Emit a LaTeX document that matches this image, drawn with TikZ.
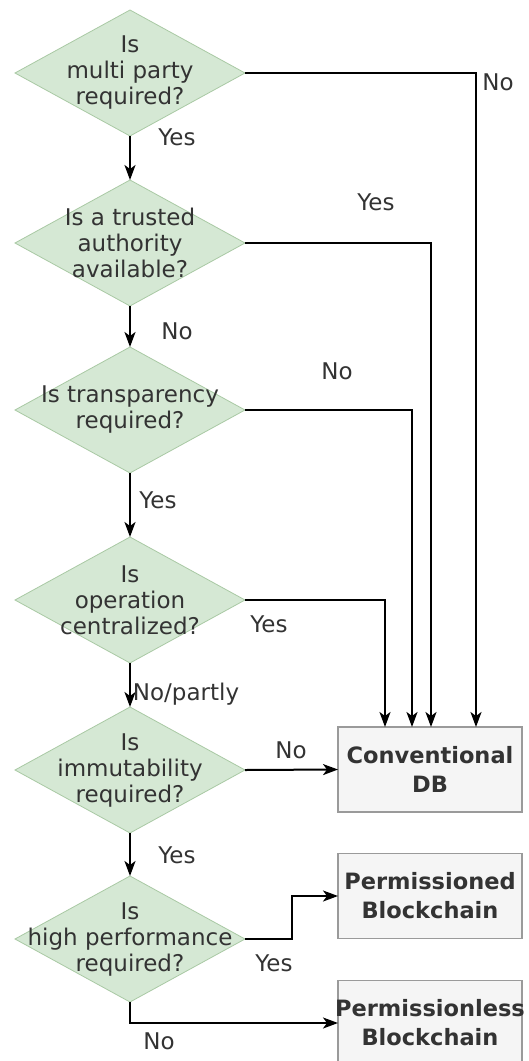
\documentclass[tikz,border=0pt]{standalone}
\usepackage{fontspec}
\setmainfont{DejaVu Sans}
\usetikzlibrary{shapes.geometric,arrows.meta}
\definecolor{dfill}{HTML}{D5E8D4}
\definecolor{dline}{HTML}{A9C9A4}
\definecolor{bfill}{HTML}{F5F5F5}
\definecolor{bline}{HTML}{9A9A9A}
\definecolor{ink}{HTML}{333333}
\begin{document}
\begin{tikzpicture}[x=1pt,y=-1pt,
  dia/.style={diamond, draw=dline, fill=dfill, line width=0.8pt,
    minimum width=230pt, minimum height=126pt, inner sep=0pt, outer sep=0pt},
  dtext/.style={align=center, text=ink, inner sep=0pt,
    font=\fontsize{23}{26}\selectfont},
  outbox/.style={rectangle, draw=bline, fill=bfill, line width=1.5pt,
    minimum width=184pt, minimum height=85pt, inner sep=0pt, outer sep=0pt,
    align=center, text=ink, font=\fontsize{22.5}{29}\selectfont\bfseries},
  lbl/.style={text=ink, inner sep=0pt, font=\fontsize{23}{26}\selectfont},
  arr/.style={draw=black, line width=2pt,
    -{Stealth[length=15pt,width=11pt,inset=4pt]}}]

% page
\path[use as bounding box, fill=white] (0,0) rectangle (528,1061);

% decisions
\node[dia] (d1) at (130,73) {};
\node[dtext] (t1) at (d1) {Is\\multi party\\required?};
\node[dia] (d2) at (130,243) {};
\node[dtext] (t2) at (d2) {Is a trusted\\authority\\available?};
\node[dia] (d3) at (130,410) {};
\node[dtext] (t3) at (d3) {Is transparency\\required?};
\node[dia] (d4) at (130,600) {};
\node[dtext] (t4) at (d4) {Is\\operation\\centralized?};
\node[dia] (d5) at (130,770) {};
\node[dtext] (t5) at (d5) {Is\\immutability\\required?};
\node[dia] (d6) at (130,939) {};
\node[dtext] (t6) at (d6) {Is\\high performance\\required?};

% outcomes
\node[outbox] (conv) at (430,769.5) {Conventional\\DB};
\node[outbox] (perm) at (430,896) {Permissioned\\Blockchain};
\node[outbox] (perml) at (430,1023) {\makebox[184pt]{Permissionless}\\Blockchain};

% main spine
\draw[arr] (d1.south) -- (d2.north);
\draw[arr] (d2.south) -- (d3.north);
\draw[arr] (d3.south) -- (d4.north);
\draw[arr] (d4.south) -- (d5.north);
\draw[arr] (d5.south) -- (d6.north);

% exits to the conventional database
\draw[arr] (d1.east) -| ([xshift=138pt]conv.north west);
\draw[arr] (d2.east) -| ([xshift=93pt]conv.north west);
\draw[arr] (d3.east) -| ([xshift=74pt]conv.north west);
\draw[arr] (d4.east) -| ([xshift=47pt]conv.north west);
\draw[arr] (d5.east) -- (conv.west);

% blockchain outcomes
\draw[arr] (d6.east) -- ++(47,0) |- (perm.west);
\draw[arr] (d6.south) |- (perml.west);

% branch labels
\node[lbl] (n1) at (498,82) {No};
\node[lbl] (y1) at (177,137) {Yes};
\node[lbl] (y2) at (376,202) {Yes};
\node[lbl] (n2) at (177,331) {No};
\node[lbl] (n3) at (337,371) {No};
\node[lbl] (y3) at (158,500) {Yes};
\node[lbl] (y4) at (269,624) {Yes};
\node[lbl] (n4) at (186,694) {No/partly};
\node[lbl] (n5) at (291,750) {No};
\node[lbl] (y5) at (177,855) {Yes};
\node[lbl] (y6) at (274,963) {Yes};
\node[lbl] (n6) at (159,1041) {No};
\end{tikzpicture}
\end{document}
